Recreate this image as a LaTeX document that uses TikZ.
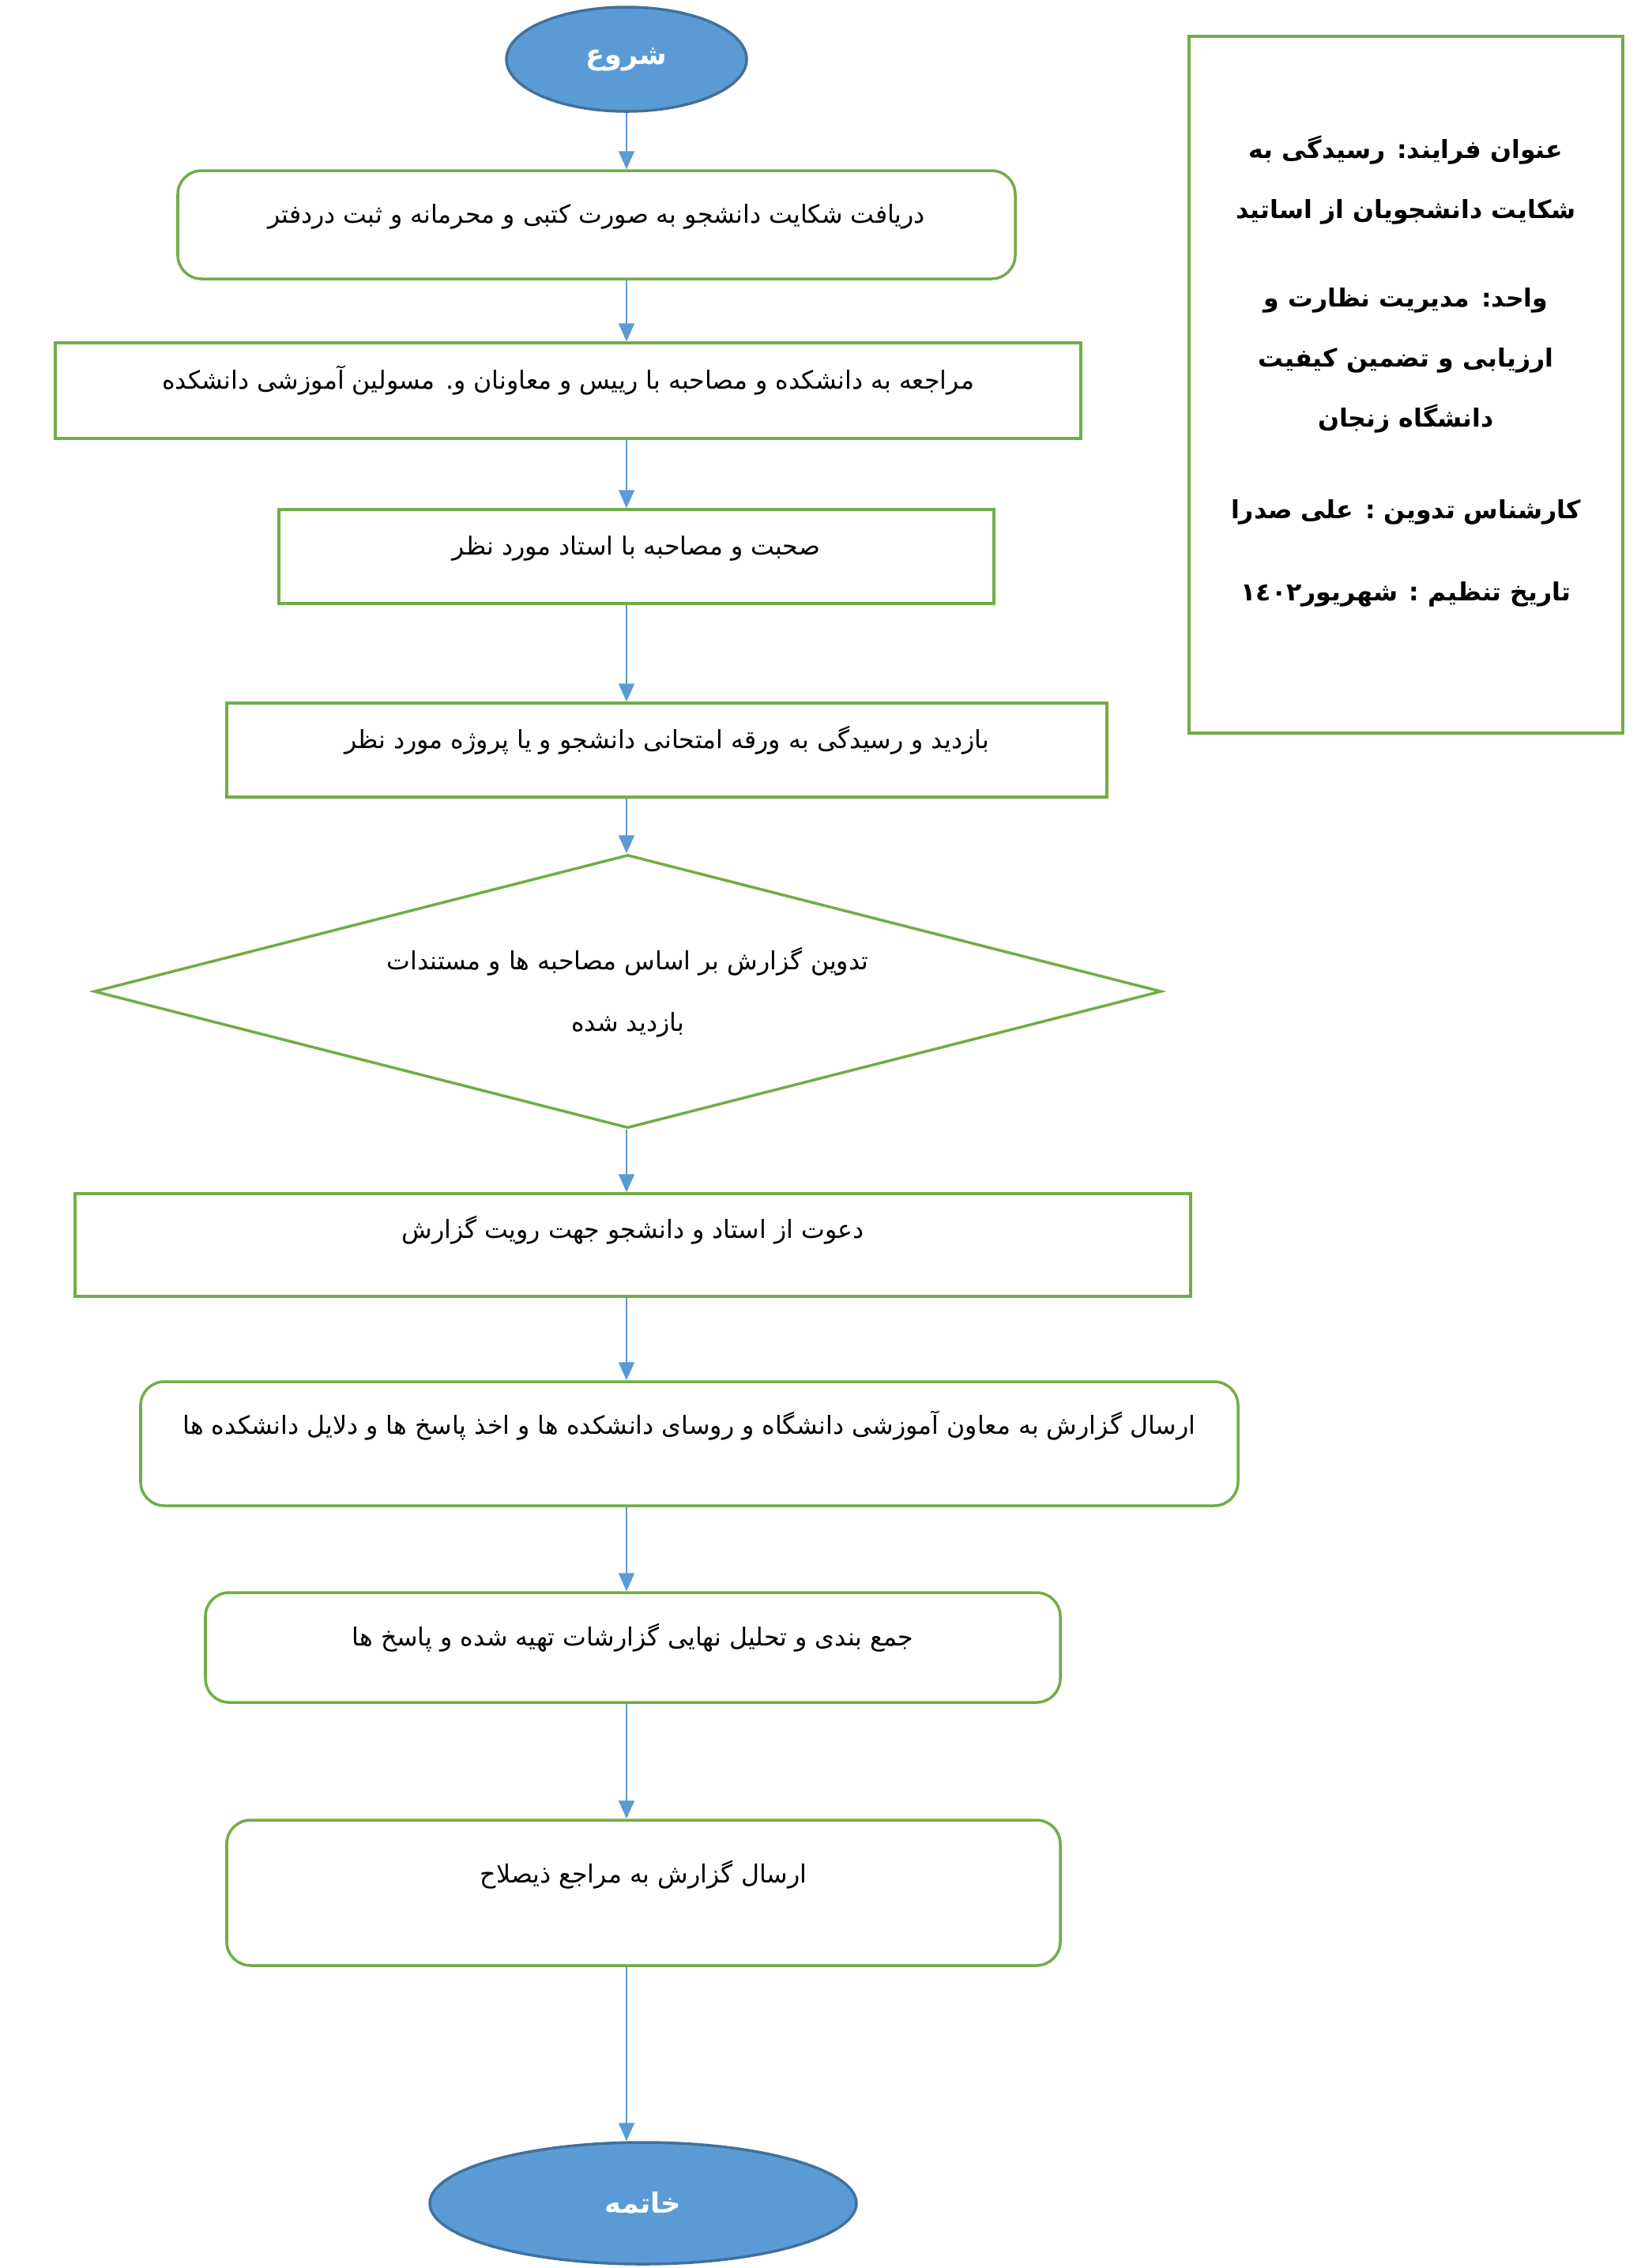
\documentclass[tikz,border=0pt]{standalone}
\usepackage{fontspec}
\usetikzlibrary{arrows.meta,shapes.geometric}
\newfontfamily\arabicfont[Script=Arabic]{DejaVu Sans}
\TeXXeTstate=1
\definecolor{flowGreen}{HTML}{70AD47}
\definecolor{flowBlue}{HTML}{5B9BD5}
\definecolor{flowNavy}{HTML}{41719C}
\newcommand{\fa}[1]{\beginR #1\endR}

\begin{document}
\begin{tikzpicture}[font=\arabicfont\fontsize{9}{11}\selectfont,
    flowbox/.style={draw=flowGreen,line width=1pt,fill=white,inner sep=0pt,
                    text height=0pt,text depth=0.05cm},
    roundbox/.style={flowbox,rounded corners=0.3cm},
    lift/.style={text depth=#1},
    term/.style={ellipse,draw=flowNavy,fill=flowBlue,line width=1pt,text=white,inner sep=0pt,
                 font=\arabicfont\bfseries\fontsize{10}{12}\selectfont},
    decide/.style={diamond,aspect=3.9,draw=flowGreen,line width=1pt,fill=white,inner sep=0pt,
                   align=center,text height=1.0cm,text depth=0pt},
    infobox/.style={draw=flowGreen,line width=1pt,inner sep=0pt,align=center,
                    font=\arabicfont\bfseries\fontsize{9}{21.6}\selectfont},
    arr/.style={-{Triangle[length=0.23cm,width=0.2cm]},flowBlue,line width=0.6pt}]
  \useasboundingbox (0,0) rectangle (20.71,-28.71);
  % start / end
  \node[term,minimum width=3.04cm,minimum height=1.32cm] (st) at (7.93,-0.75) {\fa{شروع}};
  \node[term,minimum width=5.40cm,minimum height=1.54cm] (en) at (8.14,-27.89) {\fa{خاتمه}};
  % steps
  \node[roundbox,minimum width=10.60cm,minimum height=1.37cm] (b1) at (7.55,-2.845)
    {\fa{دریافت شکایت دانشجو به صورت کتبی و محرمانه و ثبت دردفتر}};
  \node[flowbox,minimum width=12.98cm,minimum height=1.21cm] (b2) at (7.19,-4.945)
    {\fa{مراجعه به دانشکده و مصاحبه با رییس و معاونان و. مسولین آموزشی دانشکده}};
  \node[flowbox,minimum width=9.05cm,minimum height=1.19cm] (b3) at (8.055,-7.045)
    {\fa{صحبت و مصاحبه با استاد مورد نظر}};
  \node[flowbox,minimum width=11.14cm,minimum height=1.19cm] (b4) at (8.44,-9.495)
    {\fa{بازدید و رسیدگی به ورقه امتحانی دانشجو و یا پروژه مورد نظر}};
  \node[decide,minimum width=13.51cm,minimum height=3.46cm] (dec) at (7.945,-12.55)
    {\fa{تدوین گزارش بر اساس مصاحبه ها و مستندات}\\[0.39cm]\fa{بازدید شده}};
  \node[flowbox,lift=0.18cm,minimum width=14.12cm,minimum height=1.30cm] (b5) at (8.01,-15.76)
    {\fa{دعوت از استاد و دانشجو جهت رویت گزارش}};
  \node[roundbox,lift=0.25cm,minimum width=13.89cm,minimum height=1.57cm] (b6) at (8.725,-18.275)
    {\fa{ارسال گزارش به معاون آموزشی دانشگاه و روسای دانشکده ها و اخذ پاسخ ها و دلایل دانشکده ها}};
  \node[roundbox,minimum width=10.82cm,minimum height=1.39cm] (b7) at (8.01,-20.855)
    {\fa{جمع بندی و تحلیل نهایی گزارشات تهیه شده و پاسخ ها}};
  \node[roundbox,lift=0.26cm,minimum width=10.55cm,minimum height=1.84cm] (b8) at (8.145,-23.96)
    {\fa{ارسال گزارش به مراجع ذیصلاح}};
  % process card
  \node[infobox,minimum width=5.49cm,minimum height=8.82cm,text height=5.46cm,text depth=0pt]
    (info) at (17.795,-4.87)
    {\fa{عنوان فرایند: رسیدگی به}\\
     \fa{شکایت دانشجویان از اساتید}\\[0.36cm]
     \fa{واحد: مدیریت نظارت و}\\
     \fa{ارزیابی و تضمین کیفیت}\\
     \fa{دانشگاه زنجان}\\[0.4cm]
     \fa{کارشناس تدوین : علی صدرا}\\[0.28cm]
     \fa{تاریخ تنظیم : شهریور١٤٠٢}};
  \foreach \a/\b in {st/b1,b1/b2,b2/b3,b3/b4,b4/dec,dec/b5,b5/b6,b6/b7,b7/b8,b8/en}
    \draw[arr] (\a.south -| st) -- (\b.north -| st);
\end{tikzpicture}
\end{document}
